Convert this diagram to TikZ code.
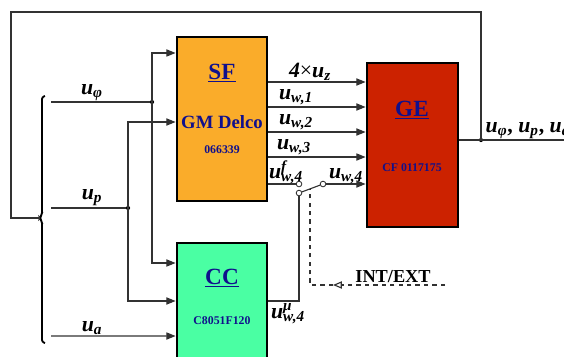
\documentclass[tikz,border=0pt]{standalone}
\usepackage{fontspec}
\setmainfont{Liberation Serif}
\usetikzlibrary{arrows.meta,positioning}

\definecolor{sforange}{RGB}{250,172,42}
\definecolor{ccgreen}{RGB}{74,255,163}
\definecolor{gered}{RGB}{204,34,0}
\definecolor{labelblue}{RGB}{16,16,140}
\definecolor{wiregray}{RGB}{50,50,50}

\newcommand{\usig}[1]{\textbf{\textit{u}}\textsubscript{\bfseries\itshape #1}}
\newcommand{\usigsup}[2]{\textbf{\textit{u}}\rlap{\textsuperscript{\bfseries\itshape #1}}\textsubscript{\bfseries\itshape #2}}

\begin{document}
\begin{tikzpicture}[
    x=0.025cm,
    y=-0.025cm,
    block/.style={
      draw,
      line width=2pt,
      minimum width=2.25cm,
      minimum height=4.1cm,
      inner sep=0pt
    },
    title/.style={
      font=\fontsize{16.5}{18}\selectfont\bfseries,
      text=labelblue
    },
    chip/.style={
      font=\fontsize{8.4}{10}\selectfont\bfseries,
      text=labelblue
    },
    sig/.style={
      font=\fontsize{15.5}{17}\selectfont,
      inner sep=1pt
    },
    wire/.style={
      draw=wiregray,
      line width=0.8pt
    },
    contact/.style={
      circle,
      draw=wiregray,
      line width=0.6pt,
      fill=white,
      inner sep=0pt,
      minimum size=4pt
    },
    dot/.style={
      circle,
      fill=black,
      inner sep=0pt,
      minimum size=3pt
    },
    >={Triangle[length=2.3mm,width=1.8mm]}
  ]

    \useasboundingbox (0,0) rectangle (564,356);

    % --- Blocks
    \node[block, fill=sforange] (sf) at (222,119) {};
    \node[block, fill=ccgreen, minimum height=3.5cm] (cc) at (222,313) {};
    \node[block, fill=gered, minimum width=2.275cm] (ge) at (412.5,145) {};

    % --- Block texts
    \node[title] (sftitle) at (222,73) {\underline{SF}};
    \node[font=\fontsize{13.3}{15}\selectfont\bfseries, text=labelblue] (sfname) at (222,122) {GM Delco};
    \node[chip] (sfchip) at (222,150) {066339};
    \node[title] (cctitle) at (222,278) {\underline{CC}};
    \node[chip] (ccchip) at (222,321) {C8051F120};
    \node[title] (getitle) at (412,110) {\underline{GE}};
    \node[chip] (gechip) at (412,168) {CF 0117175};

    % --- Junctions and free ends
    \node[dot] (jphi) at (152,102) {};
    \node[dot] (jp) at (128,208) {};
    \node[dot] (jout) at (481,140) {};
    \coordinate (inphi) at (51,102);
    \coordinate (inp) at (51,208);
    \coordinate (ina) at (51,336);
    \coordinate (outend) at (570,140);
    \coordinate (fbcorner) at (11,12);
    \coordinate (bracetip) at (40,218);

    % --- Input brace
    \draw[line width=1.3pt, rounded corners=1.5pt]
      (45,96) -- (42,97) -- (42,215) -- (39.5,218) -- (42,221) -- (42,342) -- (45,343);

    % --- Inputs
    \draw[wire] (inphi) -- (jphi);
    \draw[wire] (inp) -- (jp);
    \draw[wire, ->] (ina) -- ([yshift=-0.575cm]cc.west);
    \draw[wire, ->] (jphi.center) |- ([yshift=1.65cm]sf.west);
    \draw[wire, ->] (jphi.center) |- ([yshift=1.25cm]cc.west);
    \draw[wire, ->] (jp.center) |- ([yshift=-0.075cm]sf.west);
    \draw[wire, ->] (jp.center) |- ([yshift=0.3cm]cc.west);

    % --- SF -> GE
    \draw[wire, ->] ([yshift=0.925cm]sf.east) -- ([yshift=0.925cm]sf.east -| ge.west);
    \draw[wire, ->] ([yshift=0.3cm]sf.east) -- ([yshift=0.3cm]sf.east -| ge.west);
    \draw[wire, ->] ([yshift=-0.325cm]sf.east) -- ([yshift=-0.325cm]sf.east -| ge.west);
    \draw[wire, ->] ([yshift=-0.95cm]sf.east) -- ([yshift=-0.95cm]sf.east -| ge.west);

    % --- Switch
    \node[contact] (swf) at (299,184) {};
    \node[contact] (swmu) at (299,193) {};
    \node[contact] (swout) at (323,184) {};
    \coordinate (lever) at (310,189);
    \draw[wire] (swf -| sf.east) -- (swf);
    \draw[wire] (swmu) -- (swout);
    \draw[wire, ->] (swout) -- (swout -| ge.west);
    \draw[wire] (swmu) |- ([yshift=0.3cm]cc.east);

    % --- INT/EXT control (dashed)
    \coordinate (ctl) at (445,285);
    \coordinate (ctlarrow) at (333,285);
    \draw[wire, dashed, -{Triangle[open,length=2.2mm,width=1.8mm]}] (ctl) -- (ctlarrow);
    \draw[wire, dashed] (ctlarrow) -| (lever);

    % --- Output and feedback
    \draw[wire] (jout -| ge.east) -- (outend);
    \draw[wire] (jout.center) |- (fbcorner) |- (bracetip);

    % --- Signal labels
    \node[sig, anchor=south] (lphi) at (92,102) {\usig{φ}};
    \node[sig, anchor=south] (lp) at (92,207) {\usig{p}};
    \node[sig, anchor=south] (la) at (92,336) {\usig{a}};
    \node[sig, anchor=south] (lz) at (310,82) {\textbf{\textit{4}}×\usig{z}};
    \node[sig, anchor=south] (lw1) at (296,107) {\usig{w,1}};
    \node[sig, anchor=south] (lw2) at (296,132) {\usig{w,2}};
    \node[sig, anchor=south] (lw3) at (294,157) {\usig{w,3}};
    \node[sig, anchor=south] (lw4f) at (286,186) {\usigsup{f}{w,4}};
    \node[sig, anchor=south] (lw4) at (346,186) {\usig{w,4}};
    \node[sig, anchor=north] (lw4mu) at (288,302) {\usigsup{μ}{w,4}};
    \node[font=\fontsize{13}{15}\selectfont\bfseries, anchor=base] (lintext) at (393,282) {INT/EXT};
    \node[sig, anchor=south west] (lout) at (484,140) {\usig{φ}\textbf{,} \usig{p}\textbf{,} \usig{a}};

\end{tikzpicture}
\end{document}
